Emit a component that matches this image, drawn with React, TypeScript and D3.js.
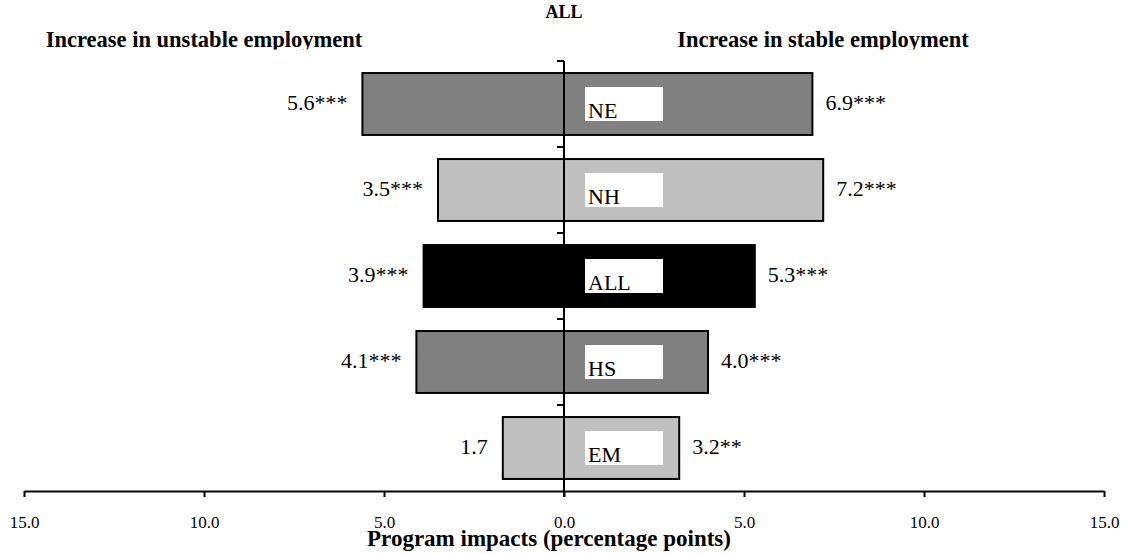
import { useEffect, useRef } from 'react';
import * as d3 from 'd3';

const categories = ['NE', 'NH', 'ALL', 'HS', 'EM'];
const unstable = [5.6, 3.5, 3.9, 4.1, 1.7];
const stable = [6.9, 7.2, 5.3, 4.0, 3.2];
const unstableSig = ['***', '***', '***', '***', ''];
const stableSig = ['***', '***', '***', '***', '**'];
const barColors = ['#808080', '#c0c0c0', '#000000', '#808080', '#c0c0c0'];
const xTicks = [-15, -10, -5, 0, 5, 10, 15];

const W = 1130;
const H = 554;
const FONT = '"Liberation Serif", "Times New Roman", serif';

export default function App() {
  const axisRef = useRef<SVGGElement>(null);

  const x = d3.scaleLinear().domain([-15, 15]).range([24, 1104]);
  const y = d3.scaleBand<string>()
    .domain(categories)
    .range([61, 491])
    .paddingInner(0.28)
    .paddingOuter(0.14);
  const axisY = 491;

  useEffect(() => {
    if (!axisRef.current) return;
    const g = d3.select(axisRef.current);
    g.selectAll('*').remove();

    const axis = d3.axisBottom(x)
      .tickValues(xTicks)
      .tickSize(6)
      .tickSizeOuter(0)
      .tickFormat(d => Math.abs(+d).toFixed(1));

    g.attr('transform', `translate(0,${axisY})`).call(axis);
    g.select('.domain').attr('stroke', '#000').attr('stroke-width', 2);
    g.selectAll('.tick line').attr('stroke', '#000').attr('stroke-width', 2);
    g.selectAll('.tick text')
      .attr('y', 37)
      .attr('dy', 0)
      .attr('fill', '#000')
      .style('font-family', FONT)
      .style('font-size', '17px');
  }, []);

  const step = y.step();
  const top = y.range()[0];
  const yTicks = categories.map((_, i) => top + i * step);

  return (
    <svg width={W} height={H} style={{ position: 'absolute', left: 0, top: 0, background: '#fff' }}>
      <defs>
        <clipPath id="titleClip">
          <rect x={0} y={0} width={W} height={49.5} />
        </clipPath>
        {categories.map((c, i) => {
          const cy = (y(c) ?? 0) + y.bandwidth() / 2;
          return (
            <clipPath id={`lab${i}`} key={c}>
              <rect x={585} y={cy - 17} width={78} height={34} />
            </clipPath>
          );
        })}
      </defs>

      <text x={564} y={18} textAnchor="middle" fontFamily={FONT} fontWeight="bold" fontSize={18}>ALL</text>
      <g clipPath="url(#titleClip)" fontFamily={FONT} fontWeight="bold" fontSize={22.5}>
        <text x={204} y={47} textAnchor="middle">Increase in unstable employment</text>
        <text x={823} y={47} textAnchor="middle">Increase in stable employment</text>
      </g>

      {categories.map((c, i) => {
        const by = y(c) ?? 0;
        const bh = y.bandwidth();
        const cy = by + bh / 2;
        return (
          <g key={c}>
            <rect
              x={x(-unstable[i])}
              y={by}
              width={x(stable[i]) - x(-unstable[i])}
              height={bh}
              fill={barColors[i]}
              stroke="#000"
              strokeWidth={2}
            />
            <text x={x(-unstable[i]) - 15} y={cy + 6} textAnchor="end" fontFamily={FONT} fontSize={22}>
              {unstable[i].toFixed(1) + unstableSig[i]}
            </text>
            <text x={x(stable[i]) + 13} y={cy + 6} textAnchor="start" fontFamily={FONT} fontSize={22}>
              {stable[i].toFixed(1) + stableSig[i]}
            </text>
          </g>
        );
      })}

      {/* vertical axis */}
      <line x1={x(0)} x2={x(0)} y1={yTicks[0]} y2={axisY + 6} stroke="#000" strokeWidth={2} />
      {yTicks.map(t => (
        <line key={t} x1={x(0) - 7} x2={x(0)} y1={t} y2={t} stroke="#000" strokeWidth={2} />
      ))}

      {categories.map((c, i) => {
        const cy = (y(c) ?? 0) + y.bandwidth() / 2;
        return (
          <g key={c}>
            <rect x={585} y={cy - 17} width={78} height={34} fill="#fff" />
            <text x={588} y={cy + 14} clipPath={`url(#lab${i})`} fontFamily={FONT} fontSize={22}>{c}</text>
          </g>
        );
      })}

      <g ref={axisRef} />

      <text x={549} y={546} textAnchor="middle" fontFamily={FONT} fontWeight="bold" fontSize={23}>
        Program impacts (percentage points)
      </text>
    </svg>
  );
}
